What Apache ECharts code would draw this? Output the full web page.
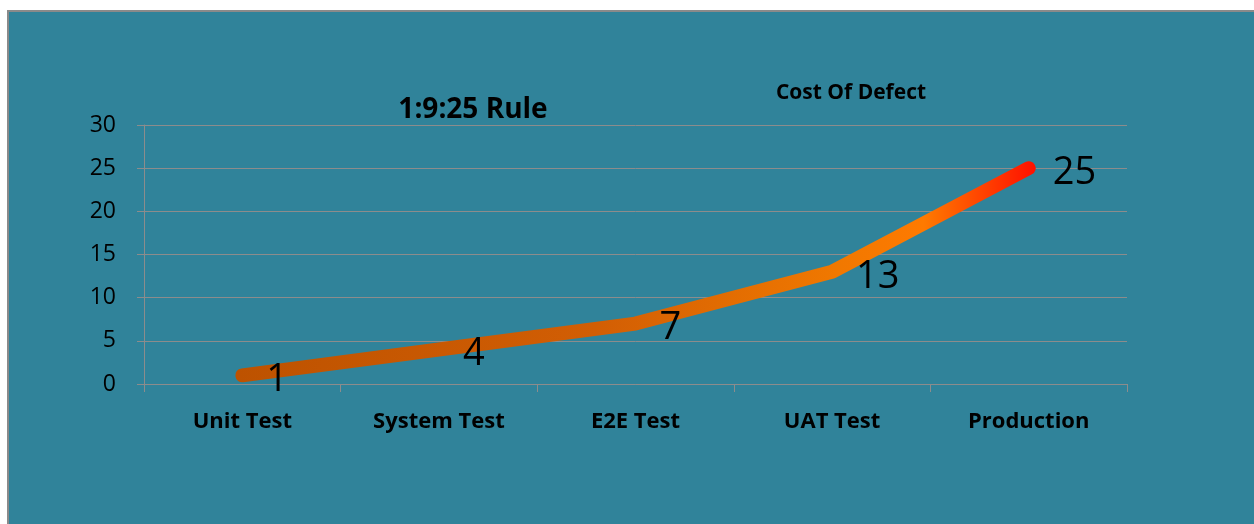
<!DOCTYPE html>
<html lang="en">
<head>
    <meta charset="UTF-8">
    <title>Cost Of Defect</title>
    <script src="https://cdn.jsdelivr.net/npm/echarts@6/dist/echarts.min.js"></script>
    <style>
        html, body { margin: 0; padding: 0; background: #ffffff; }
        #chart { width: 1254px; height: 524px; }
    </style>
</head>
<body>
<div id="chart"></div>
<script>
    var stages = ['Unit Test', 'System Test', 'E2E Test', 'UAT Test', 'Production'];
    var cost = [1, 4, 7, 13, 25];
    var yTicks = [0, 5, 10, 15, 20, 25, 30];

    var font = '"Open Sans", sans-serif';
    var myChart = echarts.init(document.getElementById('chart'));

    var option = {
        backgroundColor: '#ffffff',
        animation: false,
        graphic: [{
            type: 'rect',
            z: -10,
            shape: { x: 8, y: 11, width: 1260, height: 530 },
            style: { fill: '#30839A', stroke: '#8a8a8a', lineWidth: 2 }
        }],
        title: [{
            text: '1:9:25 Rule',
            left: 468, top: 91, textAlign: 'center',
            textStyle: { fontFamily: font, fontSize: 28, fontWeight: 'bold', color: '#000' }
        }, {
            text: 'Cost Of Defect',
            left: 846, top: 78, textAlign: 'center',
            textStyle: { fontFamily: font, fontSize: 21, fontWeight: 'bold', color: '#000' }
        }],
        grid: { left: 144, right: 127, top: 125, bottom: 140 },
        xAxis: {
            type: 'category',
            data: stages,
            boundaryGap: true,
            axisLine: { lineStyle: { color: '#8c8c8c', width: 1 } },
            axisTick: { show: true, length: 8, lineStyle: { color: '#8c8c8c' } },
            axisLabel: { margin: 27, fontFamily: font, fontSize: 22, fontWeight: 'bold', color: '#000' },
            splitLine: { show: false }
        },
        yAxis: {
            type: 'value',
            min: yTicks[0],
            max: yTicks[yTicks.length - 1],
            interval: 5,
            axisLine: { show: true, lineStyle: { color: '#8c8c8c', width: 1 } },
            axisTick: { show: true, length: 7, lineStyle: { color: '#8c8c8c' } },
            axisLabel: { margin: 28, fontFamily: font, fontSize: 23, color: '#000' },
            splitLine: { lineStyle: { color: '#8c8c8c', width: 1 } }
        },
        series: [{
            type: 'line',
            data: cost,
            symbol: 'circle',
            symbolSize: 2,
            showSymbol: true,
            itemStyle: { color: 'rgba(0,0,0,0)' },
            lineStyle: {
                width: 14,
                cap: 'round',
                join: 'round',
                color: {
                    type: 'linear', x: 0, y: 0, x2: 1, y2: 0,
                    colorStops: [
                        { offset: 0, color: '#BD5200' },
                        { offset: 0.45, color: '#D25E04' },
                        { offset: 0.75, color: '#F07800' },
                        { offset: 0.86, color: '#FF7A00' },
                        { offset: 1, color: '#FF1000' }
                    ]
                }
            },
            label: {
                show: true,
                position: 'right',
                distance: 23,
                offset: [0, 5],
                fontFamily: font,
                fontSize: 38,
                color: '#000'
            }
        }]
    };
    myChart.setOption(option);
</script>
</body>
</html>
